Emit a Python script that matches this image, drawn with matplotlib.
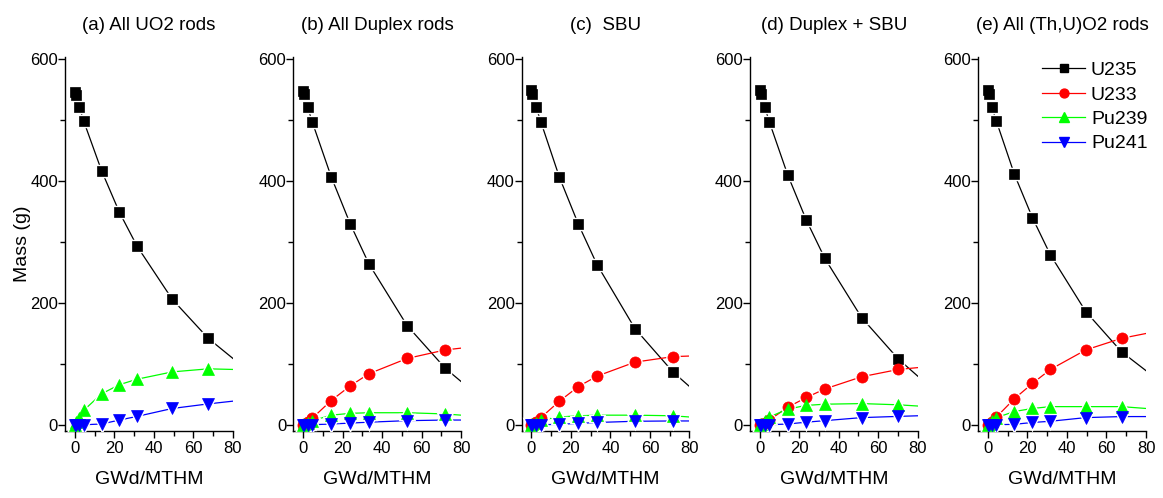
import matplotlib
matplotlib.use('Agg')
import matplotlib.pyplot as plt
from matplotlib.lines import Line2D
from matplotlib.ticker import MultipleLocator

plt.rcParams['font.family'] = ['Liberation Sans', 'DejaVu Sans']

titles = ['(a) All UO2 rods', '(b) All Duplex rods', '(c)  SBU',
          '(d) Duplex + SBU', '(e) All (Th,U)O2 rods']
nuclides = ['U235', 'U233', 'Pu239', 'Pu241']

# burnup steps (GWd/MTHM) for each rod group
burnup_a = [0, 0.7, 2.2, 4.5, 13.5, 22.5, 31.5, 49.3, 67.5]
burnup_b = [0, 0.5, 2.2, 4.6, 14.2, 23.8, 33.3, 52.6, 71.9]
burnup_c = [0, 0.5, 2.3, 4.8, 14.2, 23.8, 33.2, 52.4, 71.6]
burnup_d = [0, 0.7, 2.5, 4.9, 14.2, 23.6, 33.0, 51.6, 70.2]
burnup_e = [0, 0.4, 1.9, 4.3, 13.4, 22.5, 31.6, 49.5, 67.6]

# mass (g)
u235_a = [546, 542, 522, 498, 417, 349, 293, 206, 142]
pu239_a = [0, 5, 12, 24, 51, 66, 75, 87, 92]
pu241_a = [0, 0, 0.1, 0.3, 1.5, 8, 14, 27, 34.5]

u235_b = [548, 543, 522, 497, 407, 330, 264, 163, 93]
u233_b = [0, 1, 4, 11, 40, 64, 84, 109, 123]
pu239_b = [0, 1, 3, 7, 16, 19, 20, 20, 18]
pu241_b = [0, 0, 0.1, 0.3, 1.5, 3, 4.5, 7, 8]

u235_c = [549, 543, 522, 497, 406, 329, 263, 158, 87]
u233_c = [0, 1, 4, 12, 39, 63, 80, 103, 112]
pu239_c = [0, 1, 3, 8, 13, 15, 16, 16, 15]
pu241_c = [0, 0, 0.1, 0.3, 1, 2.5, 4, 6, 6.5]

u235_d = [549, 543, 522, 497, 410, 336, 273, 176, 108]
u233_d = [0, 1, 3, 8, 29, 45, 59, 79, 91]
pu239_d = [0, 2, 7, 13, 26, 32, 34, 35, 33]
pu241_d = [0, 0, 0.1, 0.3, 1.5, 4.5, 7, 12, 14]

u235_e = [549, 543, 522, 498, 411, 340, 279, 186, 120]
u233_e = [0, 1, 4, 13, 43, 68, 91, 123, 142]
pu239_e = [0, 2, 6, 12, 22, 27, 30, 30, 30]
pu241_e = [0, 0, 0.1, 0.3, 1, 4, 6, 12, 13.7]

# fitted curve values at 80 GWd/MTHM
curve_end_x = 80
u235_end = [109, 71, 63, 80, 89]
u233_end = [None, 126, 113, 94, 150]
pu239_end = [91, 16, 13, 31, 27]
pu241_end = [39, 8, 6.5, 15, 13.7]

panels = [
    (burnup_a, [u235_a, None, pu239_a, pu241_a]),
    (burnup_b, [u235_b, u233_b, pu239_b, pu241_b]),
    (burnup_c, [u235_c, u233_c, pu239_c, pu241_c]),
    (burnup_d, [u235_d, u233_d, pu239_d, pu241_d]),
    (burnup_e, [u235_e, u233_e, pu239_e, pu241_e]),
]
ends = [u235_end, u233_end, pu239_end, pu241_end]

colors = ['black', '#ff0000', '#00ff00', '#0000ff']
markers = ['s', 'o', '^', 'v']
msizes = [7, 8, 8.5, 8.5]

fig, axes = plt.subplots(1, 5, figsize=(11.63, 4.98), dpi=100)
fig.subplots_adjust(left=0.0559, right=0.9854, bottom=0.1345, top=0.8849, wspace=0.359)

for i, (ax, (x, series)) in enumerate(zip(axes, panels)):
    for k, y in enumerate(series):
        if y is None:
            continue
        c = colors[k]
        ax.plot(list(x) + [curve_end_x], list(y) + [ends[k][i]], color=c, lw=0.9, zorder=2)
        # white halo leaves a small gap in the line around each symbol
        ax.plot(x, y, ls='none', marker=markers[k], ms=msizes[k], mfc='white',
                mec='white', mew=2.5, zorder=3)
        ax.plot(x, y, ls='none', marker=markers[k], ms=msizes[k], color=c,
                mec=c, mew=0.5, zorder=4)

    ax.set_xlim(-5, 80)
    ax.set_ylim(-10, 603)
    ax.xaxis.set_major_locator(MultipleLocator(20))
    ax.xaxis.set_minor_locator(MultipleLocator(10))
    ax.yaxis.set_major_locator(MultipleLocator(200))
    ax.yaxis.set_minor_locator(MultipleLocator(100))
    ax.spines['top'].set_visible(False)
    ax.spines['right'].set_visible(False)
    ax.spines['left'].set_linewidth(1.0)
    ax.spines['bottom'].set_linewidth(1.0)
    ax.tick_params(which='major', direction='out', length=5, width=1.0, labelsize=12, pad=2)
    ax.tick_params(which='minor', direction='out', length=3.5, width=1.0)
    ax.tick_params(axis='y', pad=0)
    ax.set_title(titles[i], fontsize=13.5, pad=20)
    ax.set_xlabel('GWd/MTHM', fontsize=14, labelpad=11)

axes[0].set_ylabel('Mass (g)', fontsize=14)
axes[0].yaxis.set_label_coords(-0.205, 0.5)

handles = [Line2D([], [], color=colors[k], lw=0.9, marker=markers[k], ms=msizes[k] * 0.8,
                  mec=colors[k]) for k in range(4)]
axes[4].legend(handles, nuclides, loc='upper right', bbox_to_anchor=(1.09, 1.025),
               frameon=False, fontsize=14, handlelength=2.2, handletextpad=0.3,
               labelspacing=0.35, borderpad=0.2)

fig.savefig('out.png', dpi=100)
